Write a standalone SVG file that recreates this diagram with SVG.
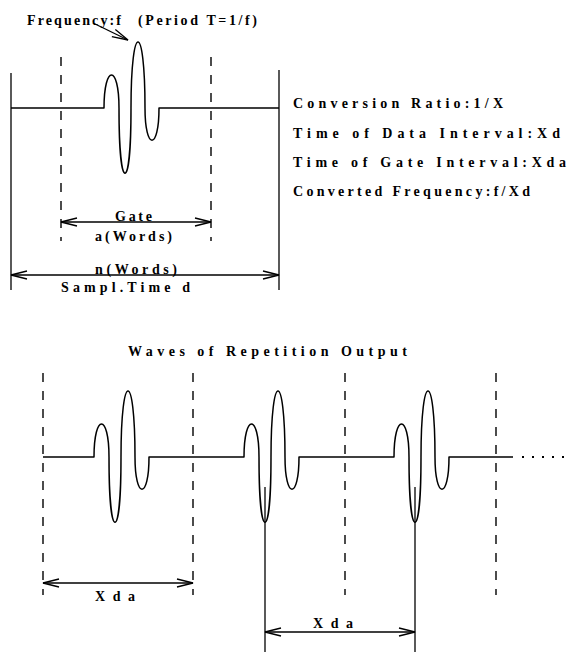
<svg xmlns="http://www.w3.org/2000/svg" width="567" height="652" viewBox="0 0 567 652">
<style>
text{font-family:"Liberation Serif","DejaVu Serif",serif;font-weight:bold;font-size:14px;fill:#000}
.w{fill:none;stroke:#000;stroke-width:1.5;stroke-linejoin:round}
.d{fill:none;stroke:#000;stroke-width:1.4;stroke-dasharray:9 9}
.s{fill:none;stroke:#000;stroke-width:1.3}
.a{fill:none;stroke:#000;stroke-width:1.3;marker-end:url(#oa);marker-start:url(#oa)}
</style>
<defs>
<marker id="oa" markerUnits="userSpaceOnUse" markerWidth="18" markerHeight="10" viewBox="0 0 18 10" refX="17" refY="5" orient="auto-start-reverse">
<path d="M1,1 L17,5 L1,9" fill="none" stroke="#000" stroke-width="1.3"/>
</marker>
<marker id="ob" markerUnits="userSpaceOnUse" markerWidth="18" markerHeight="10" viewBox="0 0 18 10" refX="17" refY="5" orient="auto">
<path d="M1,1 L17,5 L1,9" fill="none" stroke="#000" stroke-width="1.3"/>
</marker>
</defs>

<g id="top-signal">
<line class="s" x1="11" y1="73" x2="11" y2="290"/>
<line class="s" x1="279" y1="70" x2="279" y2="290"/>
<line class="d" x1="61" y1="57" x2="61" y2="241"/>
<line class="d" x1="211" y1="57" x2="211" y2="241"/>
<path class="w" d="M11,108 H104 C104,64 119,64 119,108 C119,195 131,195 131,108 C131,20 145,20 145,108 C145,151 159,151 159,108 H279"/>
</g>

<g id="top-title">
<text x="27" y="25" textLength="94" lengthAdjust="spacing">Frequency:f</text>
<text x="138" y="25" textLength="119" lengthAdjust="spacing">(Period T=1/f)</text>
</g>

<g id="params">
<text x="293" y="108" textLength="210" lengthAdjust="spacing">Conversion Ratio:1/X</text>
<text x="293" y="138" textLength="267" lengthAdjust="spacing">Time of Data Interval:Xd</text>
<text x="293" y="167" textLength="273" lengthAdjust="spacing">Time of Gate Interval:Xda</text>
<text x="293" y="196" textLength="237" lengthAdjust="spacing">Converted Frequency:f/Xd</text>
</g>

<g id="gate-label">
<text x="115" y="221" textLength="37" lengthAdjust="spacing">Gate</text>
<text x="95" y="241" textLength="77" lengthAdjust="spacing">a(Words)</text>
</g>

<g id="sample-label">
<text x="95" y="274" textLength="82" lengthAdjust="spacing">n(Words)</text>
<text x="61" y="292" textLength="129" lengthAdjust="spacing">Sampl.Time d</text>
</g>

<g id="bottom-title">
<text x="128" y="356" textLength="279" lengthAdjust="spacing">Waves of Repetition Output</text>
</g>

<g id="bottom-signal">
<line class="d" x1="43" y1="373" x2="43" y2="595"/>
<line class="d" x1="193" y1="373" x2="193" y2="595"/>
<line class="d" x1="345" y1="373" x2="345" y2="595"/>
<line class="d" x1="496" y1="373" x2="496" y2="595"/>
<path class="w" d="M43,457 H94 C94,413 109,413 109,457 C109,544 121,544 121,457 C121,369 135,369 135,457 C135,500 149,500 149,457 H244 C244,413 259,413 259,457 C259,544 271,544 271,457 C271,369 285,369 285,457 C285,500 299,500 299,457 H394 C394,413 409,413 409,457 C409,544 421,544 421,457 C421,369 435,369 435,457 C435,500 449,500 449,457 H513"/>
<line x1="522" y1="457" x2="567" y2="457" stroke="#000" stroke-width="2" stroke-dasharray="2 8"/>
<line class="s" x1="265" y1="487" x2="265" y2="652"/>
<line class="s" x1="415" y1="487" x2="415" y2="652"/>
</g>

<g id="xda-labels">
<text x="95" y="601" textLength="40" lengthAdjust="spacing">Xda</text>
<text x="313" y="628" textLength="40" lengthAdjust="spacing">Xda</text>
</g>

<g id="connectors">
<line x1="93" y1="23" x2="128" y2="40" class="s" marker-end="url(#ob)"/>
<line class="a" x1="61" y1="222" x2="211" y2="222"/>
<line class="a" x1="11" y1="275" x2="279" y2="275"/>
<line class="a" x1="43" y1="583" x2="193" y2="583"/>
<line class="a" x1="265" y1="632" x2="415" y2="632"/>
</g>
</svg>
